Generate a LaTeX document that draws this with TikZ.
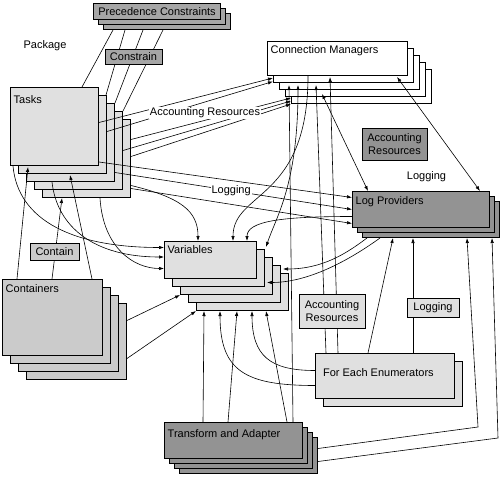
\documentclass[tikz,border=0pt]{standalone}
\usepackage{xcolor}
\usepackage{fontspec}
\setmainfont{Liberation Sans}
\usetikzlibrary{arrows.meta,calc}

\definecolor{paleboxgray}{HTML}{E0E0E0}
\definecolor{midboxgray}{HTML}{CBCBCB}
\definecolor{darkboxgray}{HTML}{939393}
\definecolor{tagboxgray}{HTML}{A6A6A6}

\begin{document}
\begin{tikzpicture}[
    x=1pt,y=-1pt,
    font=\fontsize{11}{13}\selectfont,
    stackbox/.style={rectangle,draw,line width=1pt,anchor=north west,inner sep=0pt},
    boxtitle/.style={anchor=north west,inner xsep=3.5pt,inner ysep=5pt},
    tagbox/.style={rectangle,draw,line width=1pt,inner sep=0pt,align=center},
    conn/.style={line width=0.6pt},
    arrow/.style={-{Latex[length=5pt,width=3.5pt]},line width=0.6pt},
    dblarrow/.style={{Latex[length=5pt,width=3.5pt]}-{Latex[length=5pt,width=3.5pt]},line width=0.6pt}
    ]
    \useasboundingbox (0,0) rectangle (500,476);

    % stacked boxes, back copies first
    \foreach \k in {2,1}
      \node[stackbox,fill=tagboxgray,minimum width=127,minimum height=16] (prec-\k) at ($(93,3)+\k*(5,5)$) {};
    \node[stackbox,fill=tagboxgray,minimum width=127,minimum height=16] (prec) at (93,3) {Precedence Constraints};

    \foreach \k in {4,...,1}
      \node[stackbox,fill=paleboxgray,minimum width=88,minimum height=78] (tasks-\k) at ($(10,87)+\k*(8,8)$) {};
    \node[stackbox,fill=paleboxgray,minimum width=88,minimum height=78,
      label={[boxtitle,yshift=-3pt]north west:Tasks}] (tasks) at (10,87) {};

    \foreach \k in {4,...,1}
      \node[stackbox,fill=white,minimum width=140,minimum height=34] (cm-\k) at ($(267,41)+\k*(6,7)$) {};
    \node[stackbox,fill=white,minimum width=140,minimum height=34,
      label={[boxtitle,yshift=1pt]north west:Connection Managers}] (cm) at (267,41) {};

    \foreach \k in {2,1}
      \node[stackbox,fill=darkboxgray,minimum width=137,minimum height=36] (lp-\k) at ($(352,191)+\k*(5,5)$) {};
    \node[stackbox,fill=darkboxgray,minimum width=137,minimum height=36,
      label={[boxtitle]north west:Log Providers}] (lp) at (352,191) {};

    \foreach \k in {4,...,1}
      \node[stackbox,fill=paleboxgray,minimum width=92,minimum height=37] (var-\k) at ($(164,241)+\k*(8,8)$) {};
    \node[stackbox,fill=paleboxgray,minimum width=92,minimum height=37,
      label={[boxtitle,yshift=1pt]north west:Variables}] (var) at (164,241) {};

    \foreach \k in {3,...,1}
      \node[stackbox,fill=midboxgray,minimum width=100,minimum height=76] (cont-\k) at ($(2,279)+\k*(8,8)$) {};
    \node[stackbox,fill=midboxgray,minimum width=100,minimum height=76,
      label={[boxtitle]north west:Containers}] (cont) at (2,279) {};

    \node[stackbox,fill=paleboxgray,minimum width=139,minimum height=45] (fe-1) at (323,361) {};
    \node[stackbox,fill=paleboxgray,minimum width=139,minimum height=45,
      label={[anchor=west,xshift=4.5pt,yshift=3pt]west:For Each Enumerators}] (fe) at (315,353) {};

    \foreach \k in {3,...,1}
      \node[stackbox,fill=darkboxgray,minimum width=138,minimum height=36] (ta-\k) at ($(164,422)+\k*(5,5)$) {};
    \node[stackbox,fill=darkboxgray,minimum width=138,minimum height=36,
      label={[boxtitle,yshift=-2pt]north west:Transform and Adapter}] (ta) at (164,422) {};

    \coordinate (bendA) at (478,427);
    \coordinate (bendB) at (498,438);

    % precedence constraints to tasks
    \draw[conn] ($(prec-2.south west)+(10,0)$) -- ($(tasks.north west)+(72,0)$);
    \draw[conn] ($(prec-2.south west)+(22,0)$) -- ($(tasks-1.north east)+(-1,0)$);
    \draw[conn] ($(prec-2.south west)+(40,0)$) -- (tasks-2.north east);
    \draw[conn] ($(prec-2.south west)+(60,0)$) -- (tasks-3.north east);

    % tasks to connection managers
    \draw[arrow] ($(tasks.east)+(0,-4)$) -- ($(cm-1.south west)+(0,-5)$);
    \draw[arrow] ($(tasks-1.east)+(0,-3)$) -- ($(cm-1.south west)+(0,-1.5)$);
    \draw[arrow] ($(tasks-4.east)+(0,-19)$) -- ($(cm-4.south west)+(0,-6)$);
    \draw[arrow] (tasks-3.east) -- ($(cm-4.south west)+(0,-3)$);
    \draw[arrow] ($(tasks-4.east)+(0,-2)$) -- (cm-4.south west);

    % tasks to log providers
    \draw[arrow] ($(tasks.south east)+(0,-4)$) -- ($(lp.west)+(0,-12)$);
    \draw[arrow] ($(tasks-2.east)+(0,30)$) -- (lp.west)
      node[pos=0.49,fill=white,inner sep=1pt] (logtext) {Logging};
    \draw[arrow] ($(tasks-4.east)+(0,30)$) -- ($(lp.west)+(0,14)$);

    % tasks to variables
    \draw[arrow] ($(tasks.south west)+(3,0)$) .. controls +(5,55) and +(-90,0) .. ($(var.west)+(0,-12.5)$);
    \draw[arrow] ($(tasks-2.south west)+(26,0)$) .. controls +(5,45) and +(-70,0) .. ($(var.west)+(0,-3)$);
    \draw[arrow] ($(tasks-4.south west)+(58,0)$) .. controls +(3,50) and +(-30,0) .. ($(var.west)+(0,8.5)$);
    \draw[arrow] ($(tasks-4.east)+(0,27)$) .. controls +(50,12) and +(0,-30) .. ($(var.north west)+(34,0)$);

    % containers to tasks and variables
    \draw[arrow] ($(cont.north west)+(15,0)$) -- ($(tasks.south west)+(18,1)$);
    \draw[arrow] ($(cont.north west)+(50,0)$) -- ($(tasks-4.south west)+(20,0)$);
    \draw[arrow] ($(cont.north west)+(90,0)$) -- ($(tasks-1.south west)+(52,1)$);
    \draw[arrow] ($(cont-3.east)+(0,-21)$) -- (var-2.south west);
    \draw[arrow] ($(cont-3.east)+(0,17)$) -- (var-4.south west);

    % connection managers and log providers
    \draw[dblarrow] ($(cm-3.south west)+(37,-3)$) -- ($(lp.north west)+(16,0)$);
    \draw[dblarrow] ($(cm.south east)+(-11,1)$) -- ($(lp.north east)+(-10,0)$);

    % connection managers and variables
    \draw[arrow] ($(cm.south west)+(41,0)$) .. controls +(0,125) and +(0,-50) .. ($(var.north west)+(69,0)$);
    \draw[dblarrow] ($(cm-2.south west)+(19,-5)$) .. controls +(0,100) and +(10,-30) .. ($(var-1.north east)+(1,-2)$);

    % transform and adapter
    \draw[arrow] ($(ta.north west)+(129,0)$) -- ($(cm-2.south west)+(10,-5)$);
    \draw[arrow] ($(ta.north west)+(39,0)$) -- ($(var-4.south west)+(8,0)$);
    \draw[arrow] ($(ta.north west)+(64,0)$) -- ($(var-4.south west)+(41,0)$);
    \draw[arrow] ($(ta.north west)+(123,0)$) -- ($(var-4.south west)+(70,0)$);
    \draw[arrow] ($(ta-3.east)+(0,-7)$) -- (bendA) -- ($(lp-2.south west)+(105,0)$);
    \draw[arrow] ($(ta-3.east)+(0,6)$) -- (bendB) -- ($(lp-2.south west)+(130,0)$);

    % for each enumerators
    \draw[arrow] ($(fe.north west)+(11,0)$) -- ($(cm-2.south west)+(37,-5)$);
    \draw[arrow] ($(fe.north west)+(23,0)$) -- ($(cm.south west)+(63,1)$);
    \draw[arrow] ($(fe.west)+(0,-5.5)$) .. controls +(-45,0) and +(0,45) .. ($(var-4.south west)+(56,0)$);
    \draw[arrow] ($(fe.west)+(0,9.5)$) .. controls +(-70,0) and +(0,60) .. ($(var-4.south west)+(24,0)$);
    \draw[arrow] ($(fe.north west)+(53,0)$) -- ($(lp-2.south west)+(31,0)$);
    \draw[arrow] ($(fe.north west)+(98,0)$) -- ($(lp-2.south west)+(51,0)$);

    % log providers to variables
    \draw[arrow] ($(lp.west)+(0,7)$) .. controls +(-70,0) and +(0,-20) .. ($(var.north west)+(83,0)$);
    \draw[arrow] ($(lp-2.south west)+(5,0)$) .. controls +(-20,15) and +(40,0) .. ($(var-3.north east)+(2,4)$);
    \draw[arrow] ($(lp-2.south west)+(18,0)$) .. controls +(-25,18) and +(45,0) .. ($(var-2.east)+(-6,6.5)$);

    % tags and free texts
    \node (pkg) at (45,46) {Package};
    \node[tagbox,fill=tagboxgray,minimum width=57,minimum height=15] (constrain) at (133.5,57) {Constrain};
    \node[fill=white,inner sep=1pt] (acctext) at (205,113) {Accounting Resources};
    \node[tagbox,fill=darkboxgray,minimum width=65,minimum height=32] (accdark) at (394.5,144) {Accounting\\Resources};
    \node (logfree) at (426.5,177) {Logging};
    \node[tagbox,fill=midboxgray,minimum width=49,minimum height=17] (contain) at (54.5,251.5) {Contain};
    \node[tagbox,fill=paleboxgray,minimum width=66,minimum height=34] (accpale) at (332,311) {Accounting\\Resources};
    \node[tagbox,fill=paleboxgray,minimum width=52,minimum height=19] (logpale) at (433,307.5) {Logging};

\end{tikzpicture}
\end{document}
